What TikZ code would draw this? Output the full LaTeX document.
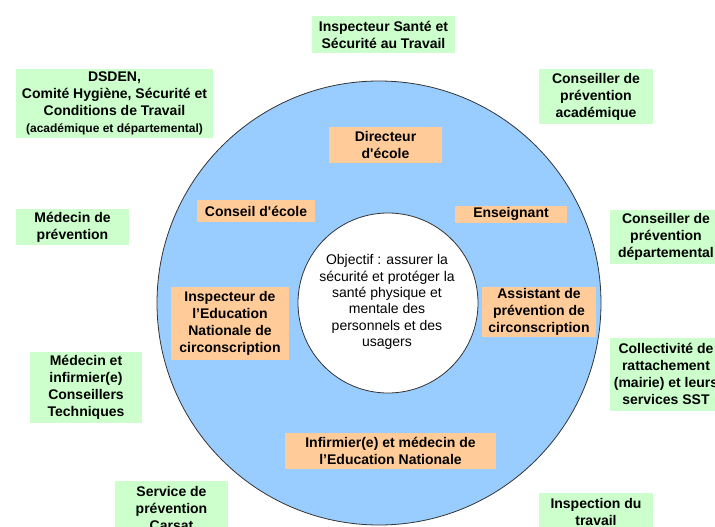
\documentclass[tikz,border=0pt]{standalone}
\usepackage{fontspec}
\setmainfont{Liberation Sans}
\definecolor{partnergreen}{RGB}{204,255,204}
\definecolor{actororange}{RGB}{255,204,153}
\definecolor{ringblue}{RGB}{153,204,255}

\begin{document}
\begin{tikzpicture}[x=1pt,y=1pt,yscale=-1,xscale=1,
  partner/.style={fill=partnergreen, inner sep=0pt, align=center, font=\bfseries\fontsize{14}{17}\selectfont},
  actor/.style={fill=actororange, inner sep=0pt, align=center, font=\bfseries\fontsize{14}{17}\selectfont}]
	\useasboundingbox (0,0) rectangle (715,527);
	\clip (0,0) rectangle (715,527);

	%Shape: Circle [ring]
	\draw [color=black!80, fill=ringblue, line width=0.8pt] (379,303) circle (222);
	%Shape: Circle [objective]
	\draw [color=black!80, fill=white, line width=0.8pt] (388,303) circle (90);

	% Text Node : objective
	\node (objectif) at (387,302) [align=center, font=\fontsize{14}{16.3}\selectfont] {Objectif : assurer la\\sécurité et protéger la\\santé physique et\\mentale des\\personnels et des\\usagers};

	% Text Node : partners outside the ring
	\node (ist) at (383.5,34.5) [partner, minimum width=143, minimum height=37] {Inspecteur Santé et\\Sécurité au Travail};
	\node (dsden) at (114.5,103.5) [partner, minimum width=197, minimum height=69] {DSDEN,\\Comité Hygiène, Sécurité et\\Conditions de Travail\\{\fontsize{12}{14}\selectfont (académique et départemental)}};
	\node (cpa) at (596,96.5) [partner, minimum width=114, minimum height=55] {Conseiller de\\prévention\\académique};
	\node (medprev) at (72.5,227) [partner, minimum width=113, minimum height=36] {Médecin de\\prévention};
	\node (cpd) at (666,237) [partner, minimum width=112, minimum height=54] {Conseiller de\\prévention\\départemental};
	\node (medinf) at (86,387.5) [partner, minimum width=112, minimum height=71] {Médecin et\\infirmier(e)\\Conseillers\\Techniques};
	\node (coll) at (666,374) [partner, minimum width=112, minimum height=73] {Collectivité de\\rattachement\\(mairie) et leurs\\services SST};
	\node (carsat) at (171.5,508.5) [partner, minimum width=113, minimum height=55] {Service de\\prévention\\Carsat};
	\node (insptrav) at (596,512) [partner, minimum width=114, minimum height=38] {Inspection du\\travail};

	% Text Node : actors inside the ring
	\node (directeur) at (385.5,145) [actor, minimum width=113, minimum height=36] {Directeur\\d\textquotesingle école};
	\node (conseil) at (256,211) [actor, minimum width=118, minimum height=22] {Conseil d\textquotesingle école};
	\node (enseignant) at (511,214) [actor, minimum width=112, minimum height=17] {Enseignant};
	\node (ien) at (230,323.5) [actor, minimum width=118, minimum height=73] {Inspecteur de\\l’Education\\Nationale de\\circonscription};
	\node (assistant) at (539,312) [actor, minimum width=114, minimum height=50] {Assistant de\\prévention de\\circonscription};
	\node (infirmier) at (390.5,451) [actor, minimum width=211, minimum height=36] {Infirmier(e) et médecin de\\l’Education Nationale};

\end{tikzpicture}
\end{document}
